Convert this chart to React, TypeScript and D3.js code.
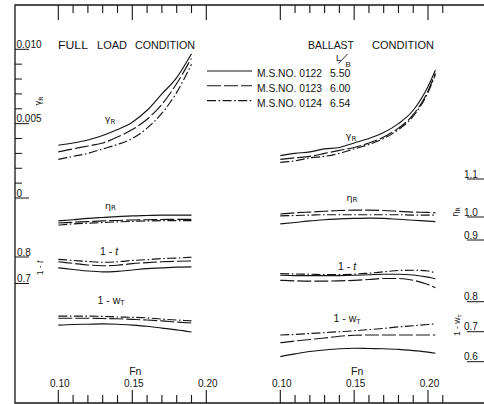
import React from 'react';
import * as d3 from 'd3';

// Froude numbers at which the curves were read
const fnLeft = [0.10, 0.11, 0.12, 0.13, 0.14, 0.15, 0.16, 0.17, 0.18, 0.19];
const fnRight = [0.10, 0.11, 0.12, 0.13, 0.14, 0.15, 0.16, 0.17, 0.18, 0.19, 0.20, 0.205];

// FULL LOAD CONDITION
const gammaL_0122 = [0.00355, 0.0037, 0.0039, 0.0042, 0.0046, 0.0051, 0.0059, 0.0070, 0.0081, 0.0097];
const gammaL_0123 = [0.0031, 0.0033, 0.0035, 0.0037, 0.0041, 0.0046, 0.0053, 0.0063, 0.0077, 0.0094];
const gammaL_0124 = [0.0026, 0.0028, 0.0030, 0.0033, 0.0036, 0.0040, 0.0047, 0.0057, 0.0071, 0.0090];
const etaL_0122 = [0.983, 0.988, 0.994, 0.998, 1.001, 1.003, 1.004, 1.005, 1.005, 1.005];
const etaL_0123 = [0.974, 0.977, 0.980, 0.983, 0.985, 0.987, 0.988, 0.989, 0.990, 0.990];
const etaL_0124 = [0.965, 0.970, 0.973, 0.976, 0.979, 0.981, 0.983, 0.984, 0.984, 0.984];
const tL_0122 = [0.759, 0.753, 0.747, 0.744, 0.746, 0.751, 0.756, 0.759, 0.762, 0.763];
const tL_0123 = [0.782, 0.776, 0.770, 0.767, 0.769, 0.775, 0.779, 0.782, 0.784, 0.785];
const tL_0124 = [0.791, 0.787, 0.783, 0.780, 0.782, 0.787, 0.790, 0.794, 0.796, 0.799];
const wL_0122 = [0.722, 0.724, 0.725, 0.726, 0.725, 0.722, 0.718, 0.712, 0.706, 0.699];
const wL_0123 = [0.745, 0.745, 0.745, 0.744, 0.743, 0.741, 0.739, 0.736, 0.732, 0.729];
const wL_0124 = [0.752, 0.752, 0.752, 0.751, 0.749, 0.748, 0.746, 0.742, 0.739, 0.736];

// BALLAST CONDITION
const gammaR_0122 = [0.00285, 0.0030, 0.0031, 0.0033, 0.0034, 0.0037, 0.0040, 0.0044, 0.0050, 0.0059, 0.0075, 0.0086];
const gammaR_0123 = [0.0026, 0.0027, 0.0028, 0.0030, 0.0032, 0.0034, 0.0037, 0.0041, 0.0047, 0.0056, 0.0072, 0.0084];
const gammaR_0124 = [0.0024, 0.0025, 0.0027, 0.0028, 0.0030, 0.0033, 0.0036, 0.0040, 0.0046, 0.0055, 0.0071, 0.0083];
const etaR_0122 = [0.970, 0.976, 0.983, 0.988, 0.992, 0.994, 0.995, 0.994, 0.990, 0.986, 0.982, 0.980];
const etaR_0123 = [1.008, 1.011, 1.013, 1.015, 1.017, 1.018, 1.018, 1.017, 1.015, 1.013, 1.012, 1.011];
const etaR_0124 = [1.003, 1.004, 1.005, 1.006, 1.006, 1.006, 1.006, 1.006, 1.006, 1.005, 1.005, 1.005];
const tR_0122 = [0.731, 0.730, 0.730, 0.730, 0.730, 0.731, 0.733, 0.735, 0.735, 0.732, 0.724, 0.718];
const tR_0123 = [0.712, 0.710, 0.709, 0.709, 0.710, 0.712, 0.715, 0.719, 0.719, 0.712, 0.696, 0.684];
const tR_0124 = [0.737, 0.736, 0.735, 0.734, 0.734, 0.735, 0.739, 0.744, 0.749, 0.750, 0.747, 0.740];
const wR_0122 = [0.617, 0.626, 0.634, 0.639, 0.643, 0.645, 0.644, 0.643, 0.641, 0.637, 0.632, 0.628];
const wR_0123 = [0.663, 0.669, 0.674, 0.679, 0.685, 0.688, 0.689, 0.689, 0.689, 0.689, 0.689, 0.689];
const wR_0124 = [0.689, 0.691, 0.694, 0.697, 0.700, 0.703, 0.707, 0.711, 0.716, 0.720, 0.724, 0.726];

// legend
const models = ['M.S.NO. 0122', 'M.S.NO. 0123', 'M.S.NO. 0124'];
const ratiosLB = ['5.50', '6.00', '6.54'];

// ticks
const fnTicksLeft = [0.10, 0.11, 0.12, 0.13, 0.14, 0.15, 0.16, 0.17, 0.18, 0.19, 0.20];
const fnTicksRight = [0.10, 0.11, 0.12, 0.13, 0.14, 0.15, 0.16, 0.17, 0.18, 0.19, 0.20, 0.21];
const fnLabels = [0.10, 0.15, 0.20];
const gammaTicks = [0, 0.001, 0.002, 0.003, 0.004, 0.005, 0.006, 0.007, 0.008, 0.009, 0.010];
const gammaLabels = [0, 0.005, 0.010];
const tLabels = [0.8, 0.7];
const etaLabels = [1.1, 1.0, 0.9];
const wLabels = [0.8, 0.7, 0.6];

const FONT = "'Liberation Sans', Arial, Helvetica, sans-serif";
const DASH: Record<string, string | undefined> = {
  solid: undefined,
  dashed: '14 3',
  dashdot: '9 2.5 1.6 2.5',
};
const styles = ['solid', 'dashed', 'dashdot'];

export default function App() {
  const xL = d3.scaleLinear().domain([0.10, 0.20]).range([58.3, 206.3]);
  const xR = d3.scaleLinear().domain([0.10, 0.20]).range([280.3, 428]);
  const yGamma = d3.scaleLinear().domain([0, 0.010]).range([198, 49.3]);
  const yEta = d3.scaleLinear().domain([0.9, 1.0, 1.1]).range([240, 217, 179]);
  const yT = d3.scaleLinear().domain([0.7, 0.8]).range([283.5, 257]);
  const yW = d3.scaleLinear().domain([0.6, 0.8]).range([361.7, 301.7]);

  const mk = (xs: number[], ys: number[], xs_: any, ys_: any) =>
    d3
      .line<number>()
      .x((_, i) => xs_(xs[i]))
      .y((d) => ys_(d))
      .curve(d3.curveMonotoneX)(ys) || '';

  const series: { d: string; s: string }[] = [];
  const addGroup = (xs: number[], xsc: any, ysc: any, arrs: number[][]) => {
    arrs.forEach((a, i) => series.push({ d: mk(xs, a, xsc, ysc), s: styles[i] }));
  };
  addGroup(fnLeft, xL, yGamma, [gammaL_0122, gammaL_0123, gammaL_0124]);
  addGroup(fnLeft, xL, yEta, [etaL_0122, etaL_0123, etaL_0124]);
  addGroup(fnLeft, xL, yT, [tL_0122, tL_0123, tL_0124]);
  addGroup(fnLeft, xL, yW, [wL_0122, wL_0123, wL_0124]);
  addGroup(fnRight, xR, yGamma, [gammaR_0122, gammaR_0123, gammaR_0124]);
  addGroup(fnRight, xR, yEta, [etaR_0122, etaR_0123, etaR_0124]);
  addGroup(fnRight, xR, yT, [tR_0122, tR_0123, tR_0124]);
  addGroup(fnRight, xR, yW, [wR_0122, wR_0123, wR_0124]);

  const isMajor = (v: number) => Math.round(v * 100) % 5 === 0;
  const fmtFn = (v: number) => v.toFixed(2);
  const fmtGamma = (v: number) => (v === 0 ? '0' : v.toFixed(3));

  const stroke = '#141414';

  const fnAxis = (ticks: number[], sc: any, key: string) => (
    <g key={key}>
      {ticks.map((v) => (
        <g key={v}>
          <line x1={sc(v)} x2={sc(v)} y1={5} y2={isMajor(v) ? 20 : 13} stroke={stroke} strokeWidth={1.1} />
          <line x1={sc(v)} x2={sc(v)} y1={403} y2={isMajor(v) ? 390 : 395} stroke={stroke} strokeWidth={1.1} />
        </g>
      ))}
      {fnLabels.map((v) => (
        <text key={'l' + v} x={sc(v) + 1.5} y={387} fontSize={10} textAnchor="middle" fontFamily={FONT} fill={stroke}>
          {fmtFn(v)}
        </text>
      ))}
      <text x={sc(0.15) + 3} y={375} fontSize={10.5} textAnchor="middle" fontFamily={FONT} fill={stroke}>
        Fn
      </text>
    </g>
  );

  return (
    <svg width={484} height={404} style={{ position: 'absolute', left: 0, top: 0, background: '#fff' }}>
      <rect width={484} height={404} fill="#fff" />
      {/* frame */}
      <path d="M484,5H15V403H484" fill="none" stroke={stroke} strokeWidth={1.3} />
      {fnAxis(fnTicksLeft, xL, 'L')}
      {fnAxis(fnTicksRight, xR, 'R')}

      {/* left axis: gamma R */}
      {gammaTicks.map((v) => (
        <line key={v} x1={15} x2={gammaLabels.includes(v) ? 29 : 22} y1={yGamma(v)} y2={yGamma(v)} stroke={stroke} strokeWidth={1} />
      ))}
      {gammaLabels.map((v) => (
        <text key={'g' + v} x={16.5} y={yGamma(v) - 1.2} fontSize={10} fontFamily={FONT} fill={stroke}>
          {fmtGamma(v)}
        </text>
      ))}
      {/* left axis: 1-t */}
      {tLabels.map((v) => (
        <g key={'t' + v}>
          <line x1={15} x2={29} y1={yT(v)} y2={yT(v)} stroke={stroke} strokeWidth={1} />
          <text x={17} y={yT(v) - 1.5} fontSize={10} fontFamily={FONT} fill={stroke}>
            {v.toFixed(1)}
          </text>
        </g>
      ))}
      {/* right axis: eta R and 1-wT */}
      {etaLabels.map((v) => (
        <g key={'e' + v}>
          <line x1={467} x2={484} y1={yEta(v)} y2={yEta(v)} stroke={stroke} strokeWidth={1} />
          <text x={464} y={yEta(v) - 1.5} fontSize={10} fontFamily={FONT} fill={stroke}>
            {v.toFixed(1)}
          </text>
        </g>
      ))}
      {wLabels.map((v) => (
        <g key={'w' + v}>
          <line x1={467} x2={484} y1={yW(v)} y2={yW(v)} stroke={stroke} strokeWidth={1} />
          <text x={464} y={yW(v) - 1.5} fontSize={10} fontFamily={FONT} fill={stroke}>
            {v.toFixed(1)}
          </text>
        </g>
      ))}

      {/* rotated axis names */}
      <text transform="translate(41,101) rotate(-90)" fontSize={8} textAnchor="middle" fontFamily="'DejaVu Sans', sans-serif" fill={stroke}>
        γ<tspan fontSize={6} dy={1.5}>R</tspan>
      </text>
      <text transform="translate(43,268) rotate(-90)" fontSize={8.5} textAnchor="middle" fontFamily={FONT} fill={stroke}>
        1 - <tspan fontStyle="italic">t</tspan>
      </text>
      <text transform="translate(458,212) rotate(-90)" fontSize={8} textAnchor="middle" fontFamily="'DejaVu Sans', sans-serif" fill={stroke}>
        η<tspan fontSize={6} dy={1.5}>R</tspan>
      </text>
      <text transform="translate(460,325) rotate(-90)" fontSize={8.5} textAnchor="middle" fontFamily={FONT} fill={stroke}>
        1 - w<tspan fontSize={6} dy={1.5}>T</tspan>
      </text>

      {/* titles */}
      <text x={58} y={48.5} fontSize={10.5} fontFamily={FONT} fill={stroke} textLength={30} lengthAdjust="spacingAndGlyphs">FULL</text>
      <text x={97} y={48.5} fontSize={10.5} fontFamily={FONT} fill={stroke} textLength={30} lengthAdjust="spacingAndGlyphs">LOAD</text>
      <text x={135} y={48.5} fontSize={10.5} fontFamily={FONT} fill={stroke} textLength={60} lengthAdjust="spacingAndGlyphs">CONDITION</text>
      <text x={308} y={48.5} fontSize={10.5} fontFamily={FONT} fill={stroke} textLength={46} lengthAdjust="spacingAndGlyphs">BALLAST</text>
      <text x={372} y={48.5} fontSize={10.5} fontFamily={FONT} fill={stroke} textLength={62} lengthAdjust="spacingAndGlyphs">CONDITION</text>

      {/* legend */}
      <text x={336} y={61} fontSize={9} fontFamily={FONT} fill={stroke}>L</text>
      <line x1={338.5} y1={63.5} x2={347.5} y2={54} stroke={stroke} strokeWidth={0.9} />
      <text x={345.5} y={66.5} fontSize={8} fontFamily={FONT} fill={stroke}>B</text>
      {models.map((m, i) => (
        <g key={m}>
          <line x1={207} x2={252} y1={71 + i * 14.8} y2={71 + i * 14.8} stroke={stroke} strokeWidth={1.1} strokeDasharray={DASH[styles[i]]} />
          <text x={257} y={77 + i * 15} fontSize={10.5} fontFamily={FONT} fill={stroke} textLength={65} lengthAdjust="spacingAndGlyphs">
            {m}
          </text>
          <text x={330} y={77 + i * 15} fontSize={10.5} fontFamily={FONT} fill={stroke}>
            {ratiosLB[i]}
          </text>
        </g>
      ))}

      {/* curve labels */}
      {[
        [110, 122, 'g'],
        [351, 139, 'g'],
        [110.5, 208.5, 'e'],
        [352, 200.5, 'e'],
      ].map(([x, y, k], i) => (
        <text key={'cl' + i} x={x as number} y={y as number} fontSize={9.5} textAnchor="middle" fontFamily="'DejaVu Sans', sans-serif" fill={stroke}>
          {k === 'g' ? 'γ' : 'η'}
          <tspan fontSize={7} dy={1.5}>R</tspan>
        </text>
      ))}
      <text x={109} y={255} fontSize={10.5} textAnchor="middle" fontFamily={FONT} fill={stroke}>
        1 - <tspan fontStyle="italic">t</tspan>
      </text>
      <text x={347} y={270} fontSize={10.5} textAnchor="middle" fontFamily={FONT} fill={stroke}>
        1 - <tspan fontStyle="italic">t</tspan>
      </text>
      <text x={111} y={303.5} fontSize={10.5} textAnchor="middle" fontFamily={FONT} fill={stroke}>
        1 - w<tspan fontSize={7} dy={1.5}>T</tspan>
      </text>
      <text x={347} y={322} fontSize={10.5} textAnchor="middle" fontFamily={FONT} fill={stroke}>
        1 - w<tspan fontSize={7} dy={1.5}>T</tspan>
      </text>

      {/* curves */}
      {series.map((s, i) => (
        <path key={i} d={s.d} fill="none" stroke={stroke} strokeWidth={1.15} strokeDasharray={DASH[s.s]} />
      ))}
    </svg>
  );
}
